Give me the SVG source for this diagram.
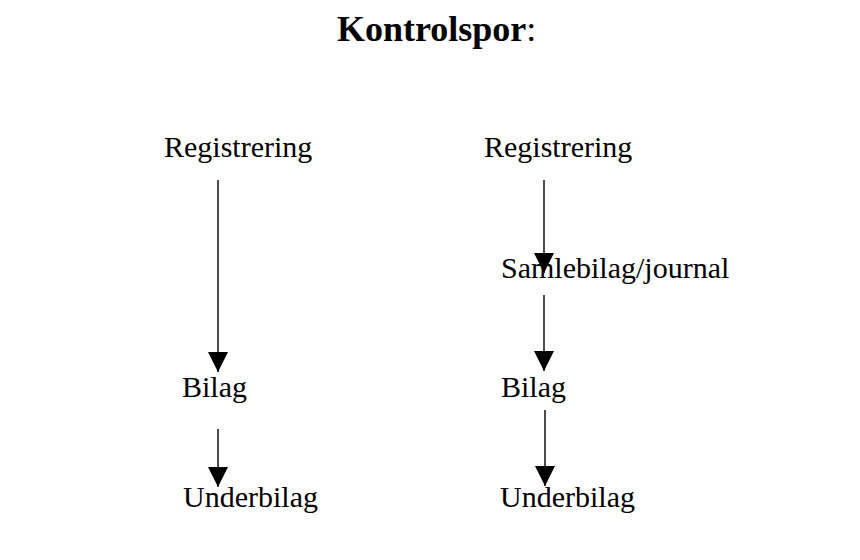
<svg xmlns="http://www.w3.org/2000/svg" width="860" height="560" viewBox="0 0 860 560">
  <style>
    .label { font-family: "Liberation Serif", "Times New Roman", serif; font-size: 30px; fill: #000; }
    .title { font-family: "Liberation Serif", "Times New Roman", serif; font-size: 36px; fill: #000; }
    .edge { stroke: #000; stroke-width: 1.4; fill: none; }
  </style>
  <defs>
    <marker id="head" markerUnits="userSpaceOnUse" markerWidth="20" markerHeight="20" refX="20" refY="10" orient="auto" viewBox="0 0 20 20">
      <polygon points="0,0 20,10 0,20" fill="#000"/>
    </marker>
  </defs>
  <rect width="860" height="560" fill="#fff"/>

  <g id="title">
    <text class="title" x="337" y="41"><tspan font-weight="bold">Kontrolspor</tspan>:</text>
  </g>

  <!-- left chain -->
  <g id="reg-left"><text class="label" x="164" y="157">Registrering</text></g>
  <g id="bilag-left"><text class="label" x="182" y="397">Bilag</text></g>
  <g id="under-left"><text class="label" x="183" y="507">Underbilag</text></g>

  <!-- right chain -->
  <g id="reg-right"><text class="label" x="484" y="157">Registrering</text></g>
  <g id="samle-right"><text class="label" x="501" y="278">Samlebilag/journal</text></g>
  <g id="bilag-right"><text class="label" x="501" y="397">Bilag</text></g>
  <g id="under-right"><text class="label" x="500" y="507">Underbilag</text></g>

  <g id="connectors">
    <line class="edge" x1="218" y1="180" x2="218" y2="372" marker-end="url(#head)"/>
    <line class="edge" x1="218" y1="429" x2="218" y2="487" marker-end="url(#head)"/>
    <line class="edge" x1="544" y1="180" x2="544" y2="273" marker-end="url(#head)"/>
    <line class="edge" x1="544" y1="295" x2="544" y2="371" marker-end="url(#head)"/>
    <line class="edge" x1="545" y1="410" x2="545" y2="486" marker-end="url(#head)"/>
  </g>
</svg>
